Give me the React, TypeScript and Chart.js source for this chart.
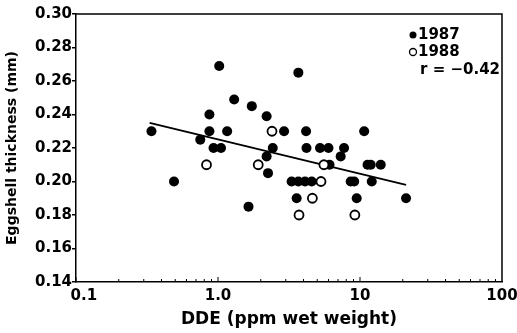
import React, { useEffect, useRef } from 'react';
import { Chart, registerables } from 'chart.js';

Chart.register(...registerables);

// 1987 (filled circles)
const x1987 = [0.34, 0.49, 0.75, 0.87, 0.87, 0.93, 1.05, 1.02, 1.16, 1.3, 1.64, 1.73, 2.2, 2.2, 2.25, 2.43, 2.92, 3.68, 4.17, 4.2, 5.23, 6.0, 6.1, 7.72, 7.31, 10.7, 11.3, 11.9, 14.0, 3.3, 3.68, 4.1, 4.57, 8.6, 9.1, 12.1, 3.58, 9.48, 21.1];
const y1987 = [0.23, 0.2, 0.225, 0.24, 0.23, 0.22, 0.22, 0.269, 0.23, 0.249, 0.185, 0.245, 0.239, 0.215, 0.205, 0.22, 0.23, 0.265, 0.23, 0.22, 0.22, 0.22, 0.21, 0.22, 0.215, 0.23, 0.21, 0.21, 0.21, 0.2, 0.2, 0.2, 0.2, 0.2, 0.2, 0.2, 0.19, 0.19, 0.19];

// 1988 (open circles)
const x1988 = [0.83, 1.92, 2.4, 5.57, 5.31, 4.62, 3.72, 9.2];
const y1988 = [0.21, 0.21, 0.23, 0.21, 0.2, 0.19, 0.18, 0.18];

// regression line end points
const lineX = [0.33, 21.1];
const lineY = [0.235, 0.198];

const yTickValues = [0.14, 0.16, 0.18, 0.2, 0.22, 0.24, 0.26, 0.28, 0.3];
const xTickValues = [0.1, 1, 10, 100];
const xTickLabels = ['   0.1', '1.0', '10', '100'];
const xDecades = [0.1, 1, 10];
const xMinorMultipliers = [1, 2, 3, 4, 5, 6, 7, 8, 9];

const legendLabels = ['1987', '1988'];
const rText = 'r = \u22120.42';

const FONT = "'DejaVu Sans', sans-serif";

const framePlugin = {
  id: 'frame',
  afterDraw(chart: any) {
    const { ctx, chartArea: a, scales } = chart;
    ctx.save();
    ctx.strokeStyle = '#000';
    ctx.lineWidth = 1.5;
    ctx.beginPath();
    ctx.moveTo(a.left, a.top);
    ctx.lineTo(a.right, a.top);
    ctx.lineTo(a.right, a.bottom);
    ctx.stroke();

    ctx.lineWidth = 1;
    ctx.beginPath();
    const xs = scales.x;
    for (const d of xDecades) {
      for (const m of xMinorMultipliers) {
        const px = xs.getPixelForValue(m * d);
        const len = m === 1 ? 5 : 3;
        ctx.moveTo(px, a.bottom);
        ctx.lineTo(px, a.bottom - len);
      }
    }
    ctx.stroke();

    // legend
    ctx.font = `bold 15px ${FONT}`;
    ctx.fillStyle = '#000';
    ctx.textBaseline = 'middle';
    ctx.textAlign = 'left';
    const dotX = a.right - 89;
    const ys = [a.top + 21, a.top + 38];
    legendLabels.forEach((t, i) => {
      ctx.beginPath();
      ctx.arc(dotX, ys[i], 3.5, 0, Math.PI * 2);
      if (i === 0) {
        ctx.fill();
      } else {
        ctx.fillStyle = '#fff';
        ctx.fill();
        ctx.fillStyle = '#000';
        ctx.lineWidth = 1.3;
        ctx.stroke();
      }
      ctx.fillText(t, dotX + 5, ys[i]);
    });
    ctx.textAlign = 'right';
    ctx.fillText(rText, a.right - 2, a.top + 56);
    ctx.restore();
  },
};

export default function App() {
  const ref = useRef<HTMLCanvasElement>(null);

  useEffect(() => {
    if (!ref.current) return;
    const chart = new Chart(ref.current, {
      type: 'scatter',
      data: {
        datasets: [
          {
            label: '1988',
            data: x1988.map((x, i) => ({ x, y: y1988[i] })),
            pointRadius: 4.5,
            pointBackgroundColor: '#fff',
            pointBorderColor: '#000',
            pointBorderWidth: 1.8,
            order: 0,
          },
          {
            label: '1987',
            data: x1987.map((x, i) => ({ x, y: y1987[i] })),
            pointRadius: 5,
            pointBackgroundColor: '#000',
            pointBorderColor: '#000',
            pointBorderWidth: 0,
            order: 1,
          },
          {
            type: 'line',
            label: 'fit',
            data: lineX.map((x, i) => ({ x, y: lineY[i] })),
            borderColor: '#000',
            borderWidth: 2,
            pointRadius: 0,
            showLine: true,
            order: 2,
          } as any,
        ],
      },
      options: {
        responsive: false,
        animation: false,
        layout: { padding: { top: 14, right: 15, bottom: 0, left: 0 } },
        plugins: { legend: { display: false }, tooltip: { enabled: false } },
        scales: {
          x: {
            type: 'logarithmic',
            position: 'bottom',
            min: 0.1,
            max: 100,
            grid: { display: false, drawTicks: false },
            border: { display: true, color: '#000', width: 1.5 },
            afterBuildTicks: (s: any) => {
              s.ticks = xTickValues.map((v) => ({ value: v }));
            },
            afterFit: (s: any) => {
              s.height = 51;
              s.paddingLeft = 0;
              s.paddingRight = 0;
            },
            ticks: {
              color: '#000',
              font: { family: FONT, size: 15, weight: 'bold' },
              padding: 5,
              maxRotation: 0,
              autoSkip: false,
              callback: (v: any) => {
                const i = xTickValues.findIndex((t) => Math.abs(t - v) < 1e-9);
                return i >= 0 ? xTickLabels[i] : '';
              },
            },
            title: {
              display: true,
              text: 'DDE (ppm wet weight)',
              color: '#000',
              font: { family: FONT, size: 17, weight: 'bold' },
              padding: { top: 0, bottom: 3 },
            },
          },
          y: {
            min: 0.14,
            max: 0.3,
            grid: { display: true, drawOnChartArea: false, drawTicks: true, tickLength: 4, color: '#000', lineWidth: 1.5 },
            border: { display: true, color: '#000', width: 1.5 },
            afterBuildTicks: (s: any) => {
              s.ticks = yTickValues.map((v) => ({ value: v }));
            },
            afterFit: (s: any) => {
              s.width = 76;
              s.paddingTop = 0;
              s.paddingBottom = 0;
            },
            ticks: {
              color: '#000',
              font: { family: FONT, size: 15, weight: 'bold' },
              padding: 0,
              callback: (v: any) => Number(v).toFixed(2),
            },
            title: {
              display: true,
              text: 'Eggshell thickness (mm)',
              color: '#000',
              font: { family: FONT, size: 14, weight: 'bold' },
              padding: { top: 4, bottom: 0 },
            },
          },
        },
      },
      plugins: [framePlugin],
    });
    return () => chart.destroy();
  }, []);

  return (
    <div style={{ position: 'fixed', left: 0, top: 0, width: 517, height: 333, background: '#fff' }}>
      <canvas ref={ref} width={517} height={333} />
    </div>
  );
}
